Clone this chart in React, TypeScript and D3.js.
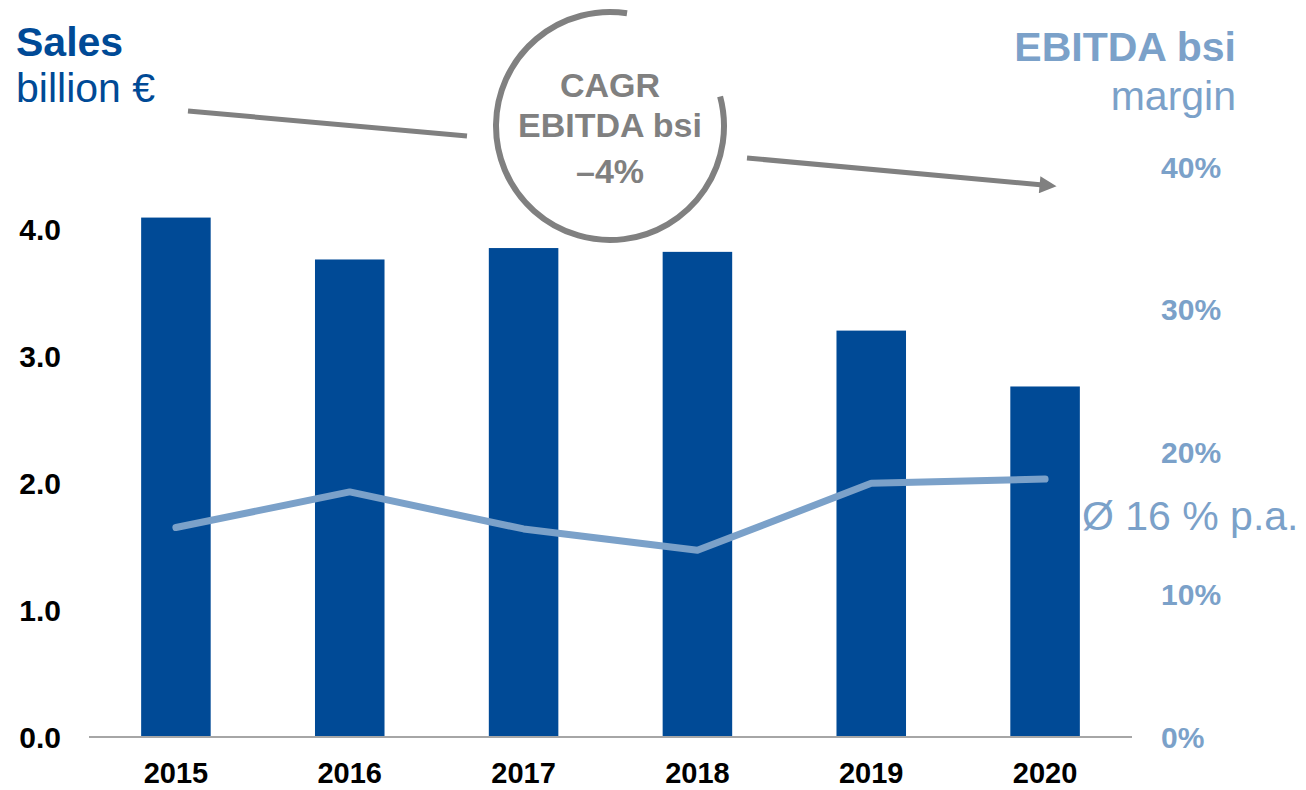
import React from "react";
import * as d3 from "d3";

const years = ["2015", "2016", "2017", "2018", "2019", "2020"];
const sales = [4.09, 3.76, 3.85, 3.82, 3.2, 2.76];
const margin = [0.147, 0.172, 0.146, 0.131, 0.178, 0.181];
const leftTicks = [0, 1, 2, 3, 4];
const rightTicks = [0, 0.1, 0.2, 0.3, 0.4];

const W = 1306;
const H = 790;
const BLUE = "#004a96";
const LIGHT = "#7ba1c9";
const GREY = "#808080";
const FONT = "'Liberation Sans', Arial, sans-serif";

export default function App() {
  const x = d3.scaleBand<string>().domain(years).range([89, 1132]).paddingInner(0.6).paddingOuter(0.3);
  const yL = d3.scaleLinear().domain([0, 4]).range([737, 229]);
  const yR = d3.scaleLinear().domain([0, 0.4]).range([737, 167]);

  const line = d3
    .line<number>()
    .x((_, i) => (x(years[i]) as number) + x.bandwidth() / 2)
    .y((d) => yR(d));

  // CAGR circle arc
  const cx = 610;
  const cy = 126;
  const r = 114;
  const arc = d3.arc()({
    innerRadius: r,
    outerRadius: r,
    startAngle: (75 * Math.PI) / 180,
    endAngle: (368.6 * Math.PI) / 180,
  } as any) as string;

  return (
    <svg width={W} height={H} style={{ position: "absolute", left: 0, top: 0, fontFamily: FONT }}>
      <defs>
        <marker id="arrow" viewBox="0 0 10 10" refX="2" refY="5" markerWidth="4" markerHeight="3.4" orient="auto" markerUnits="strokeWidth">
          <path d="M0,0 L10,5 L0,10 Z" fill={GREY} />
        </marker>
      </defs>

      {/* titles */}
      <text x={16} y={56} fill={BLUE} fontSize={41} fontWeight="bold">Sales</text>
      <text x={16} y={102} fill={BLUE} fontSize={41}>billion €</text>
      <text x={1236} y={61} fill={LIGHT} fontSize={41} fontWeight="bold" textAnchor="end">EBITDA bsi</text>
      <text x={1236} y={110} fill={LIGHT} fontSize={41} textAnchor="end">margin</text>

      {/* bars */}
      {sales.map((v, i) => (
        <rect key={years[i]} x={x(years[i])} y={yL(v)} width={x.bandwidth()} height={yL(0) - yL(v)} fill={BLUE} />
      ))}

      {/* baseline */}
      <line x1={89} x2={1132} y1={yL(0)} y2={yL(0)} stroke="#a6a6a6" strokeWidth={2} />

      {/* margin line */}
      <path d={line(margin) as string} fill="none" stroke={LIGHT} strokeWidth={7} strokeLinecap="round" strokeLinejoin="round" />

      {/* left axis labels */}
      {leftTicks.map((t) => (
        <text key={t} x={61} y={yL(t)} dy="0.36em" textAnchor="end" fontSize={30} fontWeight="bold" fill="#000">
          {t.toFixed(1)}
        </text>
      ))}

      {/* right axis labels */}
      {rightTicks.map((t) => (
        <text key={t} x={1161} y={yR(t)} dy="0.36em" textAnchor="start" fontSize={30} fontWeight="bold" fill={LIGHT}>
          {Math.round(t * 100)}%
        </text>
      ))}

      {/* x labels */}
      {years.map((yname) => (
        <text key={yname} x={(x(yname) as number) + x.bandwidth() / 2} y={783} textAnchor="middle" fontSize={29} fontWeight="bold" fill="#000">
          {yname}
        </text>
      ))}

      {/* average label */}
      <text x={1082} y={530} fontSize={41} fill={LIGHT}>Ø 16 % p.a.</text>

      {/* CAGR annotation */}
      <path d={arc} transform={`translate(${cx},${cy})`} fill="none" stroke={GREY} strokeWidth={6} strokeLinecap="round" />
      <text x={cx} y={97} textAnchor="middle" fontSize={34} fontWeight="bold" fill={GREY}>CAGR</text>
      <text x={cx} y={137} textAnchor="middle" fontSize={34} fontWeight="bold" fill={GREY}>EBITDA bsi</text>
      <text x={cx} y={183} textAnchor="middle" fontSize={34} fontWeight="bold" fill={GREY}>–4%</text>
      <line x1={188} y1={111} x2={467} y2={136} stroke={GREY} strokeWidth={5} />
      <line x1={747} y1={158} x2={1043} y2={185} stroke={GREY} strokeWidth={5} markerEnd="url(#arrow)" />
    </svg>
  );
}
